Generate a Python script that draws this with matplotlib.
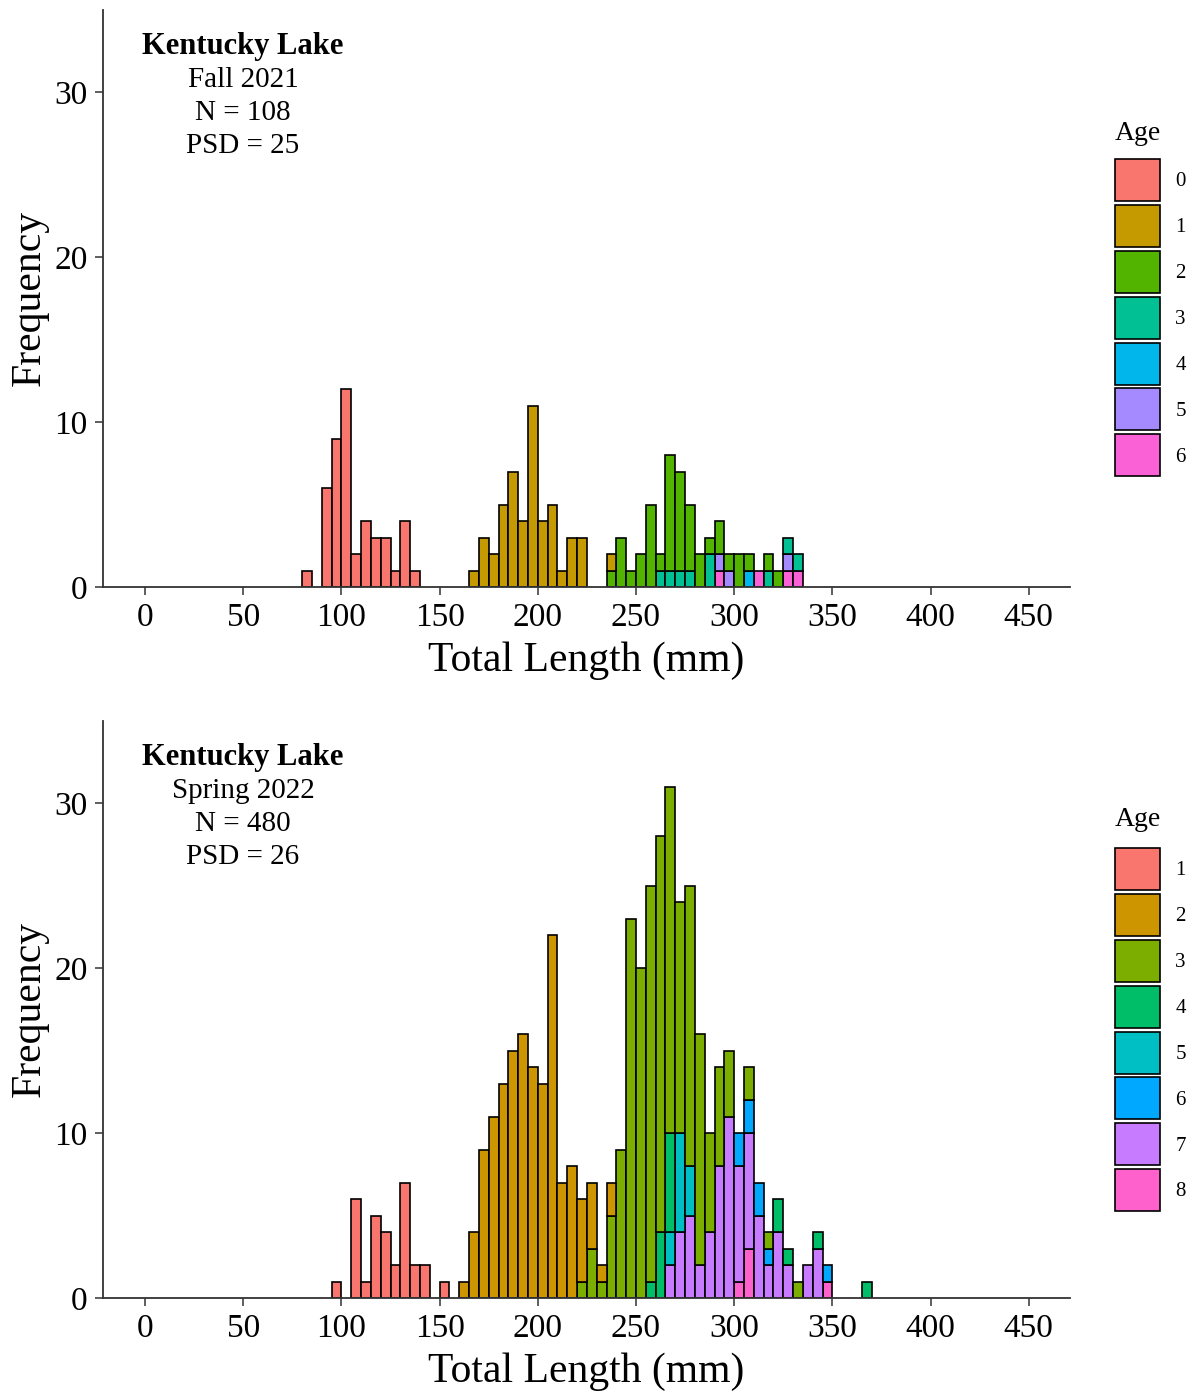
import numpy as np
import matplotlib.pyplot as plt
from matplotlib.patches import Patch

plt.rcParams['font.family'] = ['Liberation Serif', 'DejaVu Serif']

bin_width = 5

# Fall 2021 counts per age, keyed by lower bin edge (mm)
fall_ages = ['0', '1', '2', '3', '4', '5', '6']
fall_colors = ['#F8766D', '#C49A00', '#53B400', '#00C094', '#00B6EB', '#A58AFF', '#FB61D7']
fall_age0 = {80: 1, 90: 6, 95: 9, 100: 12, 105: 2, 110: 4, 115: 3, 120: 3, 125: 1, 130: 4, 135: 1}
fall_age1 = {165: 1, 170: 3, 175: 2, 180: 5, 185: 7, 190: 4, 195: 11, 200: 4, 205: 5,
             210: 1, 215: 3, 220: 3, 235: 1}
fall_age2 = {235: 1, 240: 3, 245: 1, 250: 2, 255: 5, 260: 1, 265: 7, 270: 6, 275: 4, 280: 2,
             285: 1, 290: 2, 295: 1, 300: 2, 305: 1, 315: 1, 320: 1}
fall_age3 = {260: 1, 265: 1, 270: 1, 275: 1, 285: 2, 315: 1, 325: 1, 330: 1}
fall_age4 = {305: 1}
fall_age5 = {290: 1, 295: 1, 325: 1}
fall_age6 = {290: 1, 310: 1, 325: 1, 330: 1}
fall_counts = [fall_age0, fall_age1, fall_age2, fall_age3, fall_age4, fall_age5, fall_age6]
fall_text = ['Kentucky Lake', 'Fall 2021', 'N = 108', 'PSD = 25']

# Spring 2022 counts per age
spring_ages = ['1', '2', '3', '4', '5', '6', '7', '8']
spring_colors = ['#F8766D', '#CD9600', '#7CAE00', '#00BE67', '#00BFC4', '#00A9FF', '#C77CFF', '#FF61CC']
spring_age1 = {95: 1, 105: 6, 110: 1, 115: 5, 120: 4, 125: 2, 130: 7, 135: 2, 140: 2, 150: 1}
spring_age2 = {160: 1, 165: 4, 170: 9, 175: 11, 180: 13, 185: 15, 190: 16, 195: 14, 200: 13,
               205: 22, 210: 7, 215: 8, 220: 5, 225: 4, 230: 1, 235: 2}
spring_age3 = {220: 1, 225: 3, 230: 1, 235: 5, 240: 9, 245: 23, 250: 20, 255: 24, 260: 24,
               265: 21, 270: 14, 275: 17, 280: 14, 285: 6, 290: 6, 295: 4, 305: 2, 315: 1, 330: 1}
spring_age4 = {255: 1, 260: 4, 265: 6, 320: 2, 325: 1, 340: 1, 365: 1}
spring_age5 = {265: 2, 270: 6, 275: 3}
spring_age6 = {300: 2, 305: 2, 310: 2, 315: 1, 345: 1}
spring_age7 = {265: 2, 270: 4, 275: 5, 280: 2, 285: 4, 290: 8, 295: 11, 300: 7, 305: 7,
               310: 5, 315: 2, 320: 4, 325: 2, 335: 2, 340: 3}
spring_age8 = {300: 1, 305: 3, 345: 1}
spring_counts = [spring_age1, spring_age2, spring_age3, spring_age4, spring_age5,
                 spring_age6, spring_age7, spring_age8]
spring_text = ['Kentucky Lake', 'Spring 2022', 'N = 480', 'PSD = 26']

x_ticks = np.arange(0, 451, 50)
y_ticks = [0, 10, 20, 30]

W, H = 1195, 1393
fig = plt.figure(figsize=(W / 100, H / 100), dpi=100)


def draw_panel(ax, counts, ages, colors, text, title_y, keys_top):
    bins = np.arange(0, 460, bin_width)
    bottom = np.zeros(len(bins))
    # ggplot stacks the first level on top, so draw highest age first
    for age_counts, color in zip(counts[::-1], colors[::-1]):
        h = np.array([age_counts.get(b, 0) for b in bins])
        m = h > 0
        ax.bar(bins[m], h[m], width=bin_width, bottom=bottom[m], align='edge',
               color=color, edgecolor='black', linewidth=1.2)
        bottom += h

    ax.set_xlim(-21.4, 471)
    ax.set_ylim(0, 35)
    ax.set_xticks(x_ticks)
    ax.set_yticks(y_ticks)
    ax.tick_params(labelsize=24, length=6, width=1.1, color='#333333', pad=5)
    for s in ['top', 'right']:
        ax.spines[s].set_visible(False)
    for s in ['left', 'bottom']:
        ax.spines[s].set_color('#333333')
        ax.spines[s].set_linewidth(1.3)
    ax.set_xlabel('Total Length (mm)', fontsize=30, labelpad=6)
    ax.set_ylabel('Frequency', fontsize=30, labelpad=4)

    ax.text(0.1448, 0.9355, text[0], transform=ax.transAxes, ha='center', va='center',
            fontsize=22, fontweight='bold')
    for i, t in enumerate(text[1:]):
        ax.text(0.1448, 0.9355 - (i + 1) * 0.0572, t, transform=ax.transAxes,
                ha='center', va='center', fontsize=21)

    handles = [Patch(facecolor=c, edgecolor='black', linewidth=1.2, label=a)
               for a, c in zip(ages, colors)]
    fig.text(1115 / W, 1 - title_y / H, 'Age', ha='left', va='center', fontsize=20)
    fig.legend(handles=handles, loc='upper left',
               bbox_to_anchor=(1115 / W, 1 - keys_top / H), frameon=False,
               fontsize=15, handlelength=2.15, handleheight=2.72,
               labelspacing=0.19, handletextpad=0.75, borderpad=0, borderaxespad=0)


ax1 = fig.add_axes([103 / W, 1 - 587 / H, 967 / W, 577.5 / H])
draw_panel(ax1, fall_counts, fall_ages, fall_colors, fall_text, 133, 159)
ax2 = fig.add_axes([103 / W, 1 - 1298 / H, 967 / W, 577.5 / H])
draw_panel(ax2, spring_counts, spring_ages, spring_colors, spring_text, 820, 848)

fig.savefig('out.png', dpi=100)
